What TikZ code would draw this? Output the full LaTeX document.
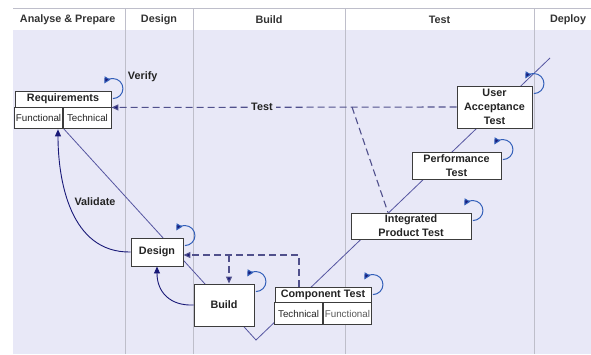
\documentclass[tikz,border=0pt]{standalone}
\usepackage{fontspec}
\setmainfont{Liberation Sans}
\usetikzlibrary{arrows.meta}
\definecolor{lav}{RGB}{232,232,247}
\definecolor{divider}{RGB}{190,190,202}
\definecolor{boxcol}{RGB}{60,60,60}
\definecolor{vcol}{RGB}{85,85,160}
\definecolor{navy}{RGB}{25,25,120}
\definecolor{dashcol}{RGB}{80,80,140}
\definecolor{loopcol}{RGB}{50,95,185}
\definecolor{txt}{RGB}{35,35,35}
\newcommand\lblfont{\fontsize{10.8}{14}\selectfont\bfseries}
\newcommand\cellfont{\fontsize{9.8}{12}\selectfont}
\begin{document}
\begin{tikzpicture}[x=1pt,y=1pt,
  box/.style={draw=boxcol, line width=0.9pt, fill=white, inner sep=1pt,
    align=center, font=\lblfont, text=txt},
  cell/.style={draw=boxcol, line width=0.9pt, fill=white, inner sep=0pt,
    font=\cellfont, text=txt},
  lbltext/.style={font=\lblfont, text=txt, inner sep=2pt},
  head/.style={font=\lblfont, text=black!80},
  vline/.style={draw=vcol, line width=0.8pt},
  navyarrow/.style={draw=navy, line width=0.9pt,
    -{Triangle[length=7pt,width=6pt]}},
  dasharrow/.style={draw=dashcol, line width=1.1pt, dash pattern=on 7pt off 4pt,
    -{Triangle[length=7pt,width=6pt,fill=navy]}},
  dashline/.style={draw=dashcol, line width=1.1pt, dash pattern=on 7pt off 4pt},
  selfloop/.style={draw=loopcol, line width=1pt,
    -{Triangle[length=6.5pt,width=6.5pt,fill=navy]}},
  % a circular loop hung on a box's top-right corner, ending in an arrow onto the box top
  loopmark/.pic={\draw[selfloop] (1.5,-8) .. controls (7,-8) and (11.5,-3.5) .. (11.5,2)
      .. controls (11.5,7.5) and (7,12) .. (1.5,12)
      .. controls (-2.1,12) and (-5.4,10.1) .. (-7.2,7);}]
\useasboundingbox (0,0) rectangle (591,-354);
% lanes
\fill[lav] (13,-30) rectangle (591,-354);
\draw[divider, line width=0.8pt] (13,-8) -- (591,-8);
\foreach \xx in {125,193,345,534}
  \draw[divider, line width=0.8pt] (\xx,-8) -- (\xx,-354);
\node[head] (hA) at (67.7,-19.5) {Analyse \& Prepare};
\node[head] (hD) at (159,-19.5) {Design};
\node[head] (hB) at (269,-19.5) {Build};
\node[head] (hT) at (439.5,-19.5) {Test};
\node[head] (hP) at (568,-19.5) {Deploy};

% the V
\coordinate (vstart) at (63,-128);
\coordinate (vbot) at (256,-340);
\coordinate (vtop) at (550,-58);
\draw[vline] (vstart) -- (vbot) -- (vtop);

% boxes
\node[box, minimum width=96pt, minimum height=16pt] (req) at (63,-99) {Requirements};
\node[cell, minimum width=48pt, minimum height=21pt, anchor=north east] (reqf) at (req.south) {Functional};
\node[cell, minimum width=48pt, minimum height=21pt, anchor=north west] (reqt) at (req.south) {Technical};

\node[box, minimum width=52pt, minimum height=28pt] (design) at (157,-252) {Design};
\node[box, minimum width=60pt, minimum height=42pt] (build) at (224,-305) {Build};

\node[box, minimum width=96pt, minimum height=15pt] (comp) at (323,-294.5) {Component Test};
\node[cell, minimum width=48pt, minimum height=22pt, anchor=north east] (compt) at (comp.south) {Technical};
\node[cell, minimum width=48pt, minimum height=22pt, anchor=north west, text=black!65] (compf) at (comp.south) {Functional};

\node[box, minimum width=120pt, minimum height=26pt] (ipt) at (411,-226) {Integrated\\Product Test};
\node[box, minimum width=89pt, minimum height=27pt] (perf) at (456.5,-165.5) {Performance\\Test};
\node[box, minimum width=75pt, minimum height=42pt] (uat) at (494.5,-107) {User\\Acceptance\\Test};

% validation arrows
\draw[navyarrow] (design.west) .. controls (70,-253) and (58,-180) .. ([xshift=-5pt]reqf.south east);
\draw[navyarrow] (build.west) .. controls (170,-306) and (157,-292) .. (design.south);

% test feedback
\coordinate (tfork) at (352,-107);
\draw[dasharrow] (uat.west) -- node[pos=0.564, lbltext, fill=lav, inner sep=3pt] (testlbl) {Test} (req.south east);
\draw[dashline] (tfork) -- ([xshift=-23pt]ipt.north);

% component test feedback
\coordinate (cfork) at (229,-255);
\draw[dasharrow] ([xshift=-24pt]comp.north) |- ([yshift=-3pt]design.east);
\draw[dasharrow] (cfork) -- ([xshift=5pt]build.north);

% self loops
\foreach \nn in {req,design,build,comp,ipt,perf,uat}
  \pic at (\nn.north east) {loopmark};

% labels
\node[lbltext] (verify) at (142.7,-76.7) {Verify};
\node[lbltext] (validate) at (95,-201.7) {Validate};
\end{tikzpicture}
\end{document}
